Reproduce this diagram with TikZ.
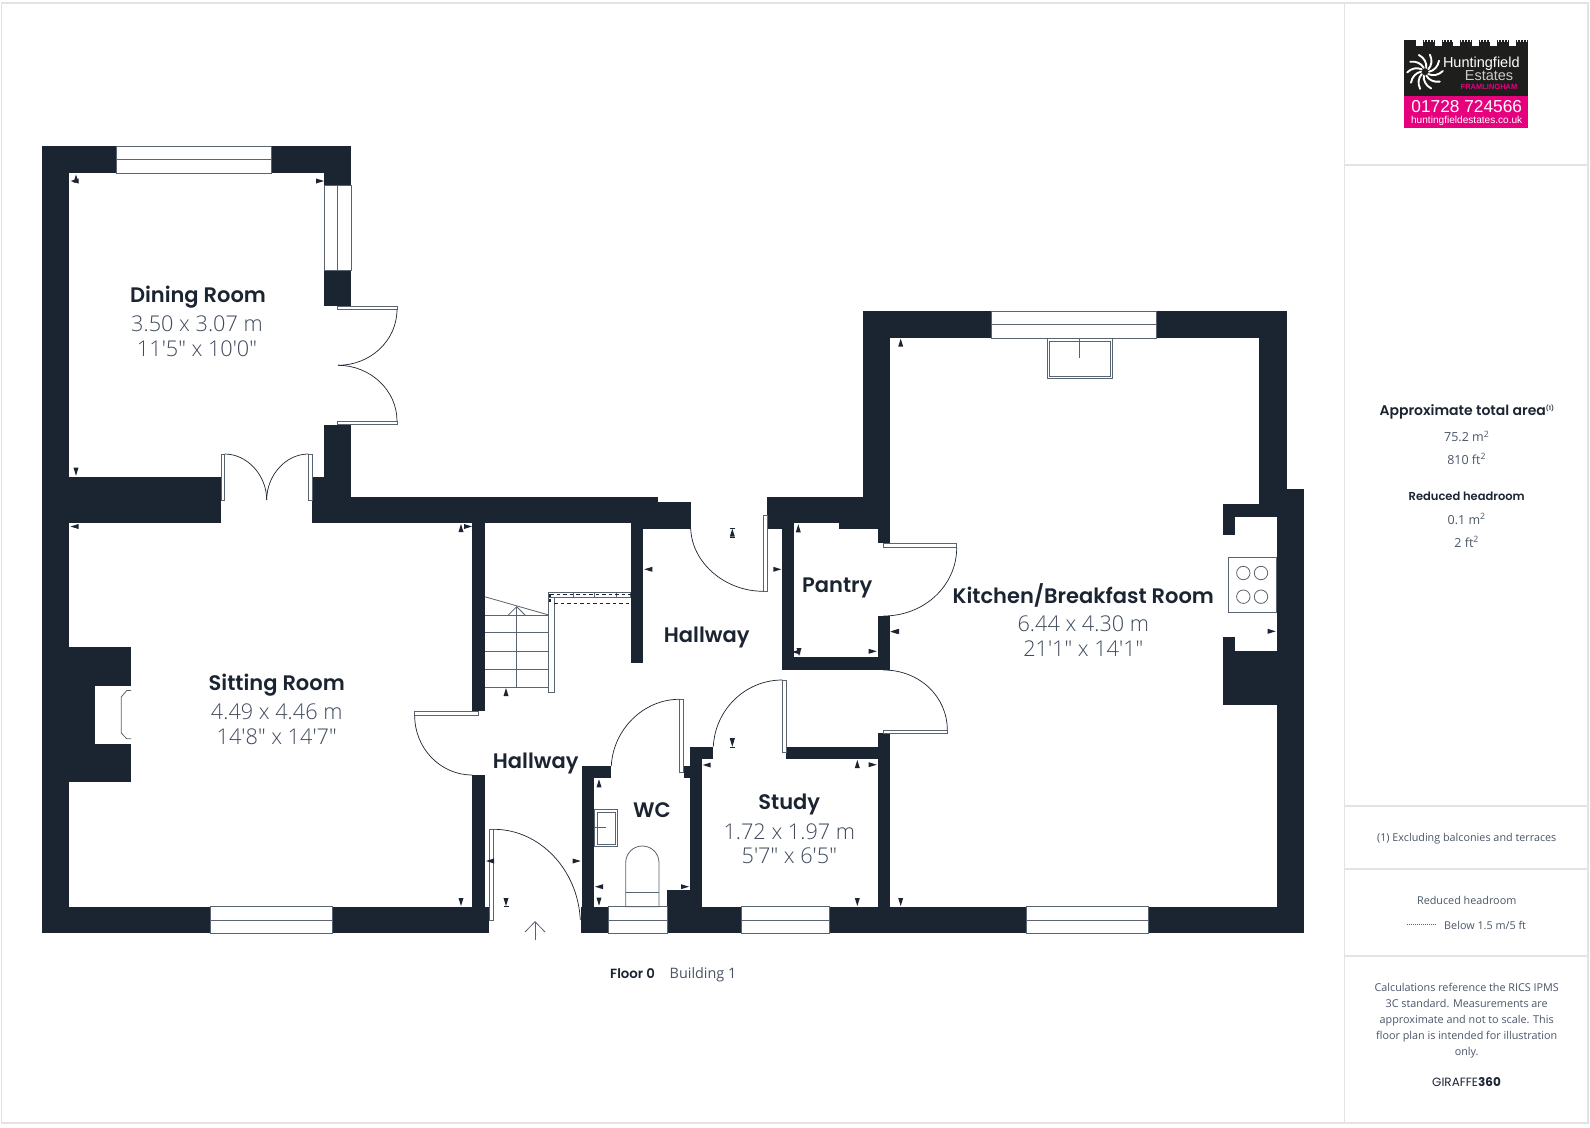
\documentclass[tikz,border=0pt]{standalone}
\usepackage{fontspec}
\usepackage{xcolor}
\setmainfont{Open Sans}
\newfontfamily\titlefont{Poppins SemiBold}
\newfontfamily\brandfont{Poppins}
\newfontfamily\logofont{Liberation Sans}
\font\dimplain="Open Sans Light" at 21.7pt
\usetikzlibrary{calc}
\definecolor{wallcol}{HTML}{1B2431}
\definecolor{dimcol}{HTML}{3F4A5C}
\definecolor{sidecol}{HTML}{4B5567}
\definecolor{linecol}{HTML}{5A6370}
\definecolor{panelcol}{HTML}{E3E3E3}
\definecolor{logopink}{HTML}{E6007E}
\definecolor{logoblack}{HTML}{1E1E1C}
\tikzset{
    wall/.style={fill=wallcol},
    glazing/.style={draw=linecol, fill=white, line width=1pt},
    leaf/.style={draw=linecol, fill=white, line width=0.7pt},
    swing/.style={draw=wallcol, line width=0.7pt},
    fitting/.style={draw=linecol, line width=0.8pt},
    dimtip/.style={fill=wallcol},
    panelline/.style={draw=panelcol, line width=1.2pt},
    roomtitle/.style={font=\titlefont\fontsize{21}{24}\selectfont, text=wallcol, inner sep=0pt, text height=15pt, text depth=0pt},
    roomdim/.style={font=\dimplain, text=dimcol, inner sep=0pt, text height=15.4pt, text depth=0pt},
    sidehead/.style={font=\titlefont\fontsize{14}{16}\selectfont, text=wallcol, inner sep=0pt, text height=10pt, text depth=0pt},
    sidetext/.style={font=\fontsize{12.5}{15}\selectfont, text=sidecol, inner sep=0pt, text height=10pt, text depth=0pt},
    sidenote/.style={font=\fontsize{10.8}{13}\selectfont, text=sidecol, inner sep=0pt, text height=8.8pt, text depth=0pt}
}
\begin{document}
\begin{tikzpicture}[x=1pt, y=-1pt]
  \useasboundingbox (0,0) rectangle (1590,1127);
  \fill[white] (0,0) rectangle (1590,1127);

  % page frame and side panel
  \draw[panelline] (1.5,3) rectangle (1588,1123);
  \draw[panelline] (1344.7,3) -- (1344.7,1123);
  \foreach \y in {165,806,869,956} {
    \draw[panelline] (1344.7,\y) -- (1588,\y);
  }

  % walls
  \foreach \xa/\ya/\xb/\yb in {
    42/146/69/933.3, 42/146/351/173, 324.4/173/351/185, 324.4/270/351/306,
    324.4/424.7/351/523.3, 69/476.7/221/523.3, 312/476.7/351/523.3,
    312/496.7/658.3/523.3, 630.7/501.7/690.7/528.7, 630.7/523/643.3/663.3,
    472.3/523/484.7/711, 472.3/775/484.7/933, 42/906.7/489.3/933.3,
    69/647.3/131.3/782,
    767.3/496.7/877.7/523.3, 767.3/523/794.3/528.7, 839/523/877.7/528.7,
    862.7/311/890/528.7, 877.7/528/890/543.3,
    781.7/528/794.3/669.7, 781.7/657.3/890/669.7, 877.7/616/890/669.7,
    862.7/311/1286.7/338, 1259.3/311/1286.7/504,
    1222.7/504/1303.7/516.7, 1222.7/516/1235/535.3, 1276.7/489.3/1303.7/933.3,
    1259.3/489.3/1303.7/504, 1222.7/650.7/1303.7/705, 1222.7/637.3/1235/651,
    877.7/733.3/890/933.3, 786.3/746.7/877.7/759,
    690/746.7/713.3/759, 690/759/702.3/906.7, 684/766/690/778.3, 667.3/890/702.3/906.7,
    581.7/766/611.3/778.3, 581.7/766/594/907, 580.7/906.7/1303.7/933.3} {
    \fill[wall] (\xa,\ya) rectangle (\xb,\yb);
  }
  % fireplace
  \fill[white] (94.7,686) rectangle (131.3,743.7);
  \draw[fitting] (131,690.5) -- (126.7,690.5) -- (121.3,697) -- (121.3,733) -- (126.7,738.7) -- (131,738.7);

  % windows along a horizontal wall
  \foreach \xa/\xb/\ya/\yb in {116.7/271/146/173, 991.7/1156/311/338, 210.7/332/906.7/933.3,
    608.3/667.3/906.7/933.3, 741/829.3/906.7/933.3, 1026.3/1148/906.7/933.3} {
    \draw[glazing] (\xa,\ya) rectangle (\xb,\yb);
    \draw[glazing] (\xa,{(\ya+\yb)/2}) -- (\xb,{(\ya+\yb)/2});
  }
  % window in the dining room side
  \draw[glazing] (324.4,185) rectangle (351,270);
  \draw[glazing] (337.7,185) -- (337.7,270);

  % door leaves
  \foreach \xa/\ya/\xb/\yb in {
    337.7/306/397/309.3, 337.7/421/397/424.7, 221/454/224.7/500, 308.3/454/312/500,
    763.3/515/767.3/591.3, 883.3/543.3/956.7/547.7, 883.3/730/947.3/733.3,
    782.3/680/786.3/752.7, 679.3/699.3/683.3/772.3, 489.7/829.3/493.7/920,
    414.7/711.7/478.7/715.7} {
    \draw[leaf] (\xa,\ya) rectangle (\xb,\yb);
  }
  % door swings
  \draw[swing] (397,309.3) .. controls (397,341) and (370,365.3) .. (338,365.3);
  \draw[swing] (397,421) .. controls (397,390) and (370,365.3) .. (338,365.3);
  \draw[swing] (224.7,454) .. controls (247,454) and (266.7,475) .. (266.7,500);
  \draw[swing] (308.3,454) .. controls (286,454) and (266.7,475) .. (266.7,500);
  \draw[swing] (690.7,528.7) .. controls (692,563) and (725,591.3) .. (763.3,591.3);
  \draw[swing] (956.7,547.7) .. controls (956.7,585) and (925,616) .. (883.3,616);
  \draw[swing] (883.3,670) .. controls (920,670) and (947.3,697) .. (947.3,730);
  \draw[swing] (782.3,680) .. controls (745,680) and (715,710) .. (713.3,746.7);
  \draw[swing] (679.3,699.3) .. controls (643,699.3) and (613,730) .. (611.3,766);
  \draw[swing] (493.7,829.3) .. controls (540,829.3) and (578,870) .. (580.3,920);
  \draw[swing] (414.7,715.7) .. controls (414.7,748) and (440,775) .. (472.3,775);

  % stairs
  \foreach \y in {615,632.7,651,669,687.3} {
    \draw[fitting] (484.7,\y) -- (548.7,\y);
  }
  \draw[fitting] (484.7,596.7) -- (548.7,615);
  \draw[fitting] (516.7,687.3) -- (516.7,606.7);
  \draw[fitting] (508.3,615) -- (516.7,606.7) -- (525,615);
  \draw[leaf] (548.7,592.7) rectangle (554,692);
  \draw[leaf] (548.7,592.7) rectangle (573.5,597);
  \draw[fitting, line width=0.6pt] (573.5,592.7) rectangle (594.5,597);
  \draw[fitting, line width=0.6pt] (594.5,592.7) rectangle (616.5,597);
  \draw[leaf] (616.5,592.7) rectangle (630.7,597);
  \draw[wallcol, line width=1.2pt, dash pattern=on 3.5pt off 3pt] (550,594.2) -- (630.7,594.2);
  \draw[wallcol, line width=1.2pt, dash pattern=on 3.5pt off 3pt] (554,603.7) -- (630.7,603.7);
  \draw[wallcol, line width=1.2pt, dash pattern=on 3pt off 2pt] (550,594.2) -- (550,604);

  % WC fittings
  \draw[fitting] (594.7,809.3) rectangle (617.7,846.7);
  \draw[fitting] (597.3,812) rectangle (615.3,844);
  \draw[fitting] (595,827.7) -- (606,827.7);
  \draw[fitting] (625.7,906.7) -- (625.7,862.7) .. controls (625.7,853.5) and (633,846) .. (642.35,846)
    .. controls (651.7,846) and (659,853.5) .. (659,862.7) -- (659,906.7) -- cycle;
  \draw[fitting] (625.7,892.3) -- (659,892.3);

  % kitchen fittings
  \draw[fitting] (1047,338) rectangle (1112.7,378.7);
  \draw[fitting] (1049.3,341) rectangle (1110,376.3);
  \draw[fitting] (1079.7,338) -- (1079.7,358.3);
  \draw[fitting, fill=white] (1228.7,557.3) rectangle (1276.7,612.3);
  \foreach \x/\y in {1243.3/573, 1261/573, 1243.3/596.7, 1261/596.7} {
    \draw[fitting] (\x,\y) circle[radius=6.7];
  }

  % entrance arrow
  \coordinate (entryfoot) at (535,940);
  \coordinate (entrytip) at (535,921.7);
  \draw[fitting] (entryfoot) -- (entrytip);
  \draw[fitting] (525,932) -- (entrytip) -- (545,932);

  % measure marks
  \foreach \x/\y in {320/181, 468/526.5, 777.3/569.3, 872.7/651.3, 872.7/764.7, 685/886.7, 576.7/861, 1271.7/631.3} {
    \fill[dimtip] (\x-4,\y-2.5) -- (\x+4,\y) -- (\x-4,\y+2.5) -- cycle;
  }
  \foreach \x/\y in {74.5/181, 74.5/526.5, 648.3/569.3, 796/652, 894.3/631.7, 706.7/765, 599/886.7, 490/861, 895/631.3} {
    \fill[dimtip] (\x+4,\y-2.5) -- (\x-4,\y) -- (\x+4,\y+2.5) -- cycle;
  }
  \foreach \x/\y in {76/178.5, 461/528, 798.3/528.3, 506/692, 857.3/764, 599/783.3, 900.7/342.7, 732.3/532.7} {
    \fill[dimtip] (\x-2.5,\y+4) -- (\x,\y-4) -- (\x+2.5,\y+4) -- cycle;
  }
  \foreach \x/\y in {76/471.7, 461/902, 799/652, 732.3/742.7, 506/902, 599/901.7, 857.3/902, 900.7/902} {
    \fill[dimtip] (\x-2.5,\y-4) -- (\x,\y+4) -- (\x+2.5,\y-4) -- cycle;
  }
  \foreach \x/\y in {732.3/528.3, 732.3/537, 732.3/738.2, 732.3/747.2, 506/906.5} {
    \draw[wallcol, line width=0.7pt] (\x-2.5,\y) -- (\x+2.5,\y);
  }

  % room labels
  \node[roomtitle] (diningname) at (198,295) {Dining Room};
  \node[roomdim] (diningm) at (197,324) {3.50 x 3.07 m};
  \node[roomdim] (diningft) at (197,349) {11'5" x 10'0"};
  \node[roomtitle] (sittingname) at (276.7,682.7) {Sitting Room};
  \node[roomdim] (sittingm) at (276.7,712) {4.49 x 4.46 m};
  \node[roomdim] (sittingft) at (276.7,736.7) {14'8" x 14'7"};
  \node[roomtitle] (upperhall) at (706.7,635) {Hallway};
  \node[roomtitle] (lowerhall) at (535.7,760.5) {Hallway};
  \node[roomtitle] (pantryname) at (837.3,585) {Pantry};
  \node[roomtitle] (wcname) at (652,810) {WC};
  \node[roomtitle] (studyname) at (789.3,801.7) {Study};
  \node[roomdim] (studym) at (789.3,831.7) {1.72 x 1.97 m};
  \node[roomdim] (studyft) at (789.3,856) {5'7" x 6'5"};
  \node[roomtitle] (kitchenname) at (1083.3,595.8) {Kitchen/Breakfast Room};
  \node[roomdim] (kitchenm) at (1083.3,624) {6.44 x 4.30 m};
  \node[roomdim] (kitchenft) at (1083.3,649) {21'1" x 14'1"};
  \node[sidehead, font=\titlefont\fontsize{13.3}{15}\selectfont, anchor=west] (floorname) at (610,973) {Floor 0};
  \node[sidetext, font=\fontsize{14.4}{16}\selectfont, anchor=west] (buildingname) at (669.5,973) {Building 1};

  % logo
  \fill[logoblack] (1404.3,40) rectangle (1527.7,96);
  \fill[logopink] (1404.3,96) rectangle (1527.7,127.7);
  \foreach \n in {0,...,5} {
    \fill[white] (1416+18.6*\n,40) rectangle (1423+18.6*\n,45.5);
    \foreach \m in {2,5,8,11} {
      \fill[white] (1422+18.6*\n+\m,40) rectangle (1423+18.6*\n+\m,42);
    }
  }
  \foreach \a in {0,36,...,324} {
    \draw[white, line width=1.9pt, line cap=round, rotate around={\a:(1425,71.7)}]
      (1425+4,71.7) .. controls (1425+9,71.7-1) and (1425+13,71.7-5) .. (1425+14,71.7-11);
  }
  \node[font=\logofont\fontsize{14.5}{16}\selectfont, text=white, inner sep=0pt] (logoname) at (1481.3,63.5) {Huntingfield};
  \node[font=\logofont\fontsize{14.5}{16}\selectfont, text=black!20, inner sep=0pt] (logoestates) at (1489,76) {Estates};
  \node[font=\logofont\bfseries\fontsize{7.5}{8}\selectfont, text=logopink, inner sep=0pt] (logotown) at (1489,86.7) {FRAMLINGHAM};
  \node[font=\logofont\fontsize{17.3}{20}\selectfont, text=white, inner sep=0pt] (logophone) at (1466.7,107) {01728 724566};
  \node[font=\logofont\fontsize{10.1}{12}\selectfont, text=white, inner sep=0pt] (logoweb) at (1466.7,120.5) {huntingfieldestates.co.uk};

  % side panel texts
  \node[sidehead] (areahead) at (1466.7,410) {Approximate total area\raisebox{5pt}{\fontsize{6}{7}\selectfont (1)}};
  \node[sidetext] (aream) at (1466.7,436.7) {75.2 m\textsuperscript{2}};
  \node[sidetext] (areaft) at (1466.7,459) {810 ft\textsuperscript{2}};
  \node[sidehead, font=\titlefont\fontsize{11.5}{14}\selectfont, text height=8pt] (lowhead) at (1466.7,496) {Reduced headroom};
  \node[sidetext] (lowm) at (1466.7,519.3) {0.1 m\textsuperscript{2}};
  \node[sidetext] (lowft) at (1466.7,542) {2 ft\textsuperscript{2}};
  \node[sidenote] (exclnote) at (1466.7,837) {(1) Excluding balconies and terraces};
  \node[sidenote] (lowlabel) at (1466.7,900) {Reduced headroom};
  \coordinate (dota) at (1406.7,924.7);
  \coordinate (dotb) at (1435,924.7);
  \draw[linecol, line width=0.8pt, dash pattern=on 1pt off 1pt] (dota) -- (dotb);
  \node[sidenote, anchor=west] (lowvalue) at (1444,924.7) {Below 1.5 m/5 ft};
  \foreach \t/\y in {{Calculations reference the RICS IPMS}/987.3, {3C standard. Measurements are}/1003.3,
    {approximate and not to scale. This}/1019.3, {floor plan is intended for illustration}/1035, {only.}/1051} {
    \node[sidenote] at (1466.7,\y) {\t};
  }
  \node[font=\brandfont\fontsize{12}{14}\selectfont, text=wallcol, inner sep=0pt, text height=8.8pt, text depth=0pt] (brand) at (1466.5,1082.3) {GIRAFFE{\bfseries 360}};
\end{tikzpicture}
\end{document}
